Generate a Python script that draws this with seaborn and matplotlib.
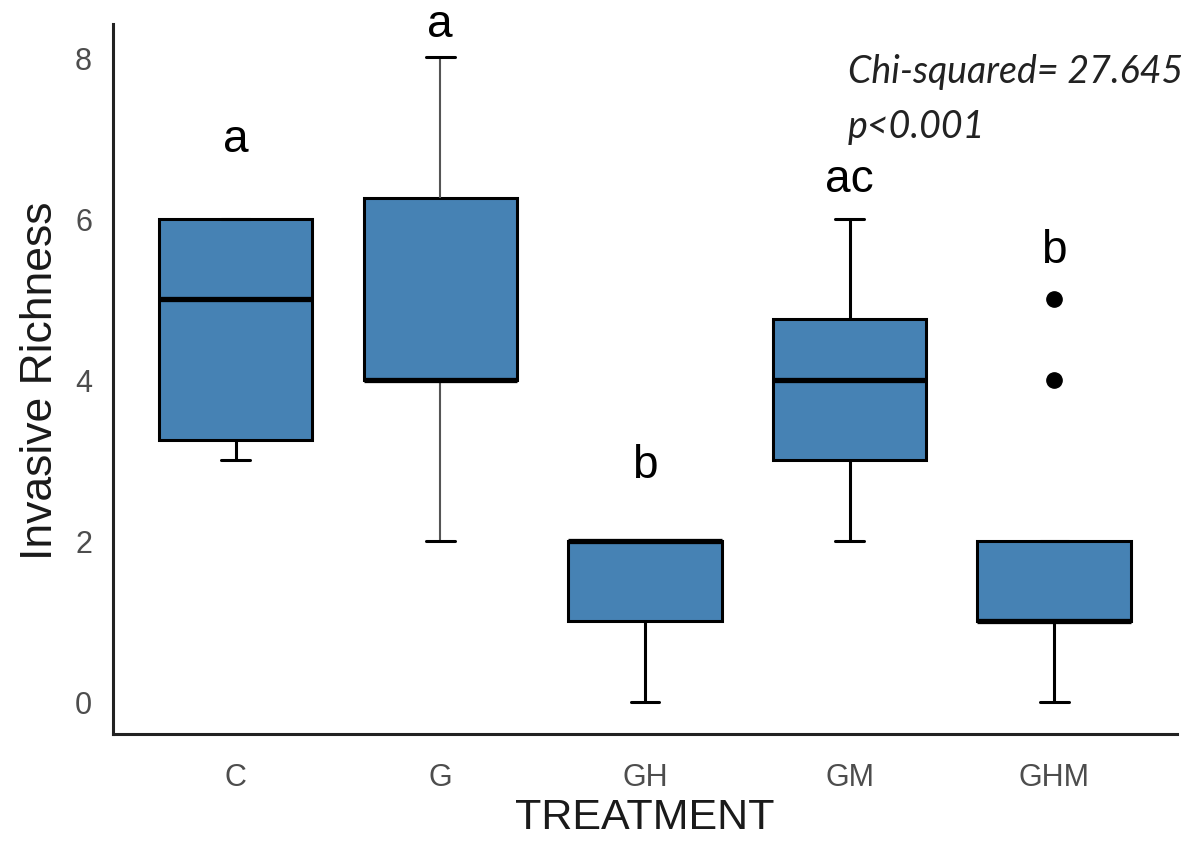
import matplotlib
matplotlib.use("Agg")
import matplotlib.pyplot as plt
import seaborn as sns
import pandas as pd

# Invasive richness per treatment (values chosen to reproduce the box summaries)
treatments = ["C", "G", "GH", "GM", "GHM"]
richness_c = [3, 3, 4, 6, 6, 6]
richness_g = [2, 4, 4, 4, 7, 8]
richness_gh = [0, 1, 2, 2, 2]
richness_gm = [2, 2, 3, 3, 4, 4, 4, 5, 5, 6]
richness_ghm = [0, 1, 1, 1, 1, 2, 2, 4, 5]

# Post-hoc group letters and where they sit (data units)
letters = ["a", "a", "b", "ac", "b"]
letter_y = [6.84, 8.26, 2.79, 6.34, 5.46]

stat_lines = ["Chi-squared= 27.645", "p<0.001"]

groups = [richness_c, richness_g, richness_gh, richness_gm, richness_ghm]
df = pd.DataFrame({
    "TREATMENT": [t for t, g in zip(treatments, groups) for _ in g],
    "richness": [v for g in groups for v in g],
})

sns.set_style("white")
plt.rcParams['font.family'] = ['Liberation Sans', 'DejaVu Sans']

fig = plt.figure(figsize=(12.01, 8.45), dpi=100)
ax = fig.add_axes([0.094, 0.130, 0.886, 0.840])

sns.boxplot(data=df, x="TREATMENT", y="richness", order=treatments,
            color="#4682B4", saturation=1, width=0.75, linecolor="black",
            linewidth=2.2, fliersize=11, whis=1.5,
            flierprops=dict(marker='o', markerfacecolor='black', markeredgecolor='black'),
            medianprops=dict(linewidth=3.8, color='black'),
            capwidths=0.14, ax=ax)

# the G whisker looks lighter/thinner in the original
for ln in ax.lines[6:8]:
    ln.set_color("#555555")
    ln.set_linewidth(1.5)

ax.set_xlim(-0.6, 4.6)
ax.set_ylim(-0.4, 8.41)
ax.set_yticks([0, 2, 4, 6, 8])

for side in ["top", "right"]:
    ax.spines[side].set_visible(False)
for side in ["left", "bottom"]:
    ax.spines[side].set_linewidth(2.2)
    ax.spines[side].set_color("#222222")

ax.tick_params(axis='both', length=8, width=1.6, color="#333333",
               labelsize=22, labelcolor="#4d4d4d")
ax.tick_params(axis='x', pad=12)
ax.tick_params(axis='y', pad=7)
ax.set_xlabel("TREATMENT", fontsize=31, color="#1a1a1a", labelpad=4)
ax.set_ylabel("Invasive Richness", fontsize=32, color="#1a1a1a", labelpad=10)

for i, (lab, y) in enumerate(zip(letters, letter_y)):
    ax.text(i, y, lab, ha='center', va='baseline', fontsize=33,
            color='black', clip_on=False)

ax.text(2.99, 7.70, stat_lines[0], fontsize=27, style='italic',
        family=['Lato', 'DejaVu Sans'], color="#222222", va='baseline')
ax.text(2.99, 7.01, stat_lines[1], fontsize=27, style='italic',
        family=['Lato', 'DejaVu Sans'], color="#222222", va='baseline')

fig.savefig("out.png", dpi=100)
